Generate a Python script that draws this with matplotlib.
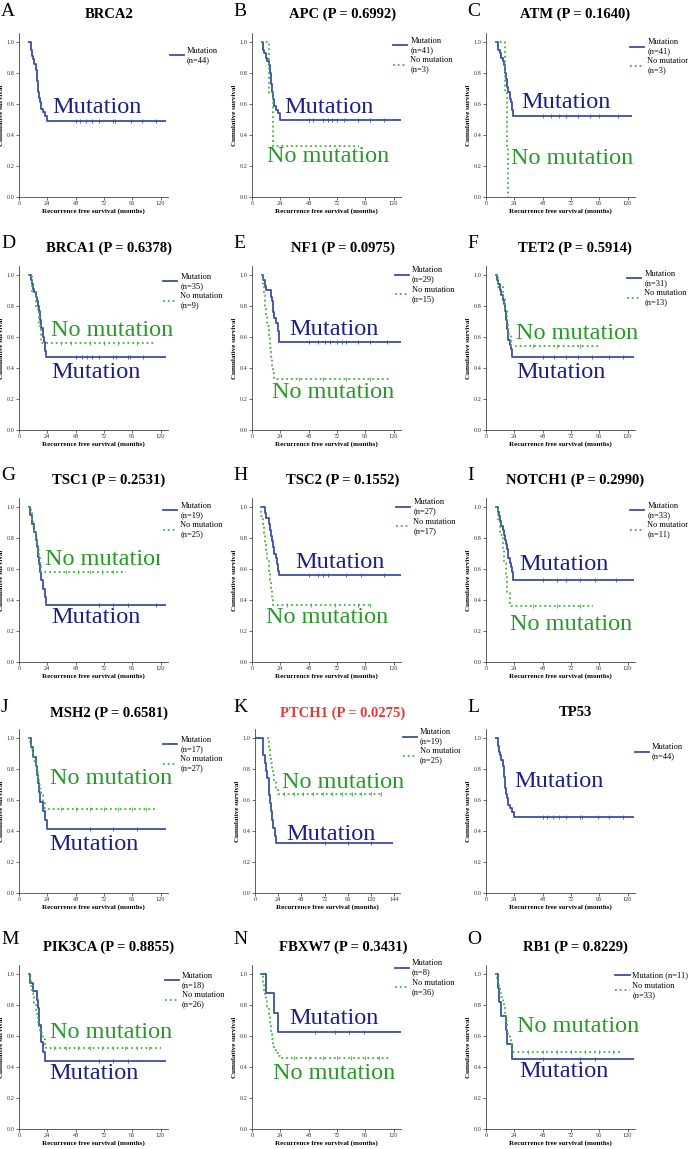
import matplotlib
matplotlib.use('Agg')
import matplotlib.pyplot as plt
from matplotlib.lines import Line2D
from matplotlib.transforms import Bbox, TransformedBbox

plt.rcParams['font.family'] = ['Liberation Serif', 'DejaVu Serif']

BLUE_LINE = '#3b4fa3'
BLUE_TEXT = '#1c1f8a'
GREEN_LINE = '#3fb43f'
GREEN_TEXT = '#279a27'

# ---- survival data (time in months, survival) ----
# A BRCA2
a_mut_t = [8, 10, 11, 12, 13, 14, 15, 16, 17, 18, 19, 20, 22, 24]
a_mut_s = [1.00, 0.95, 0.91, 0.89, 0.86, 0.82, 0.75, 0.68, 0.64, 0.61, 0.57, 0.55, 0.52, 0.49]
a_mut_c = [48, 52, 57, 62, 68, 80, 81, 95, 104, 116]
# B APC
b_mut_t = [8, 9, 10, 12, 13, 14, 15, 16, 17, 18, 19, 20, 22, 24]
b_mut_s = [1.00, 0.95, 0.93, 0.90, 0.88, 0.85, 0.80, 0.73, 0.68, 0.63, 0.59, 0.56, 0.54, 0.50]
b_mut_c = [48, 52, 60, 64, 68, 72, 78, 90, 100, 112]
b_no_t = [8, 14, 18]
b_no_s = [1.00, 0.67, 0.33]
# C ATM
c_mut_t = [8, 10, 12, 13, 14, 15, 16, 17, 18, 19, 20, 21, 22, 23]
c_mut_s = [1.00, 0.95, 0.93, 0.90, 0.88, 0.85, 0.80, 0.76, 0.71, 0.68, 0.63, 0.61, 0.56, 0.52]
c_mut_c = [48, 55, 62, 68, 78, 88, 96, 112]
c_no_t = [8, 16, 18, 19]
c_no_s = [1.00, 0.67, 0.33, 0.00]
# D BRCA1
d_mut_t = [8, 10, 11, 12, 13, 14, 15, 16, 17, 18, 19, 20, 21, 22, 23]
d_mut_s = [1.00, 0.97, 0.94, 0.91, 0.89, 0.86, 0.83, 0.80, 0.77, 0.71, 0.66, 0.60, 0.57, 0.51, 0.47]
d_mut_c = [48, 53, 58, 62, 68, 80, 82, 92, 94, 105]
d_no_t = [8, 11, 14, 17, 19]
d_no_s = [1.00, 0.89, 0.78, 0.67, 0.56]
d_no_c = [36, 44, 60, 72, 84, 100]
# E NF1
e_mut_t = [8, 9, 11, 12, 16, 17, 18, 19, 20, 22, 23]
e_mut_s = [1.00, 0.97, 0.93, 0.90, 0.86, 0.83, 0.76, 0.72, 0.69, 0.64, 0.57]
e_mut_c = [48, 56, 62, 66, 72, 76, 80, 90, 100, 114]
e_no_t = [8, 9, 10, 11, 12, 13, 14, 15, 16, 17, 18, 19]
e_no_s = [1.00, 0.93, 0.87, 0.80, 0.73, 0.67, 0.60, 0.53, 0.47, 0.40, 0.37, 0.33]
e_no_c = [40, 60, 80, 100]
# F TET2
f_mut_t = [8, 9, 10, 12, 13, 14, 15, 16, 17, 18, 19, 20, 21, 22]
f_mut_s = [1.00, 0.97, 0.94, 0.90, 0.87, 0.84, 0.81, 0.77, 0.71, 0.65, 0.58, 0.55, 0.52, 0.47]
f_mut_c = [48, 58, 68, 78, 90, 104, 116]
f_no_t = [8, 10, 14, 16, 18, 19, 21]
f_no_s = [1.00, 0.92, 0.85, 0.77, 0.69, 0.62, 0.54]
f_no_c = [40, 60, 80]
# G TSC1
g_mut_t = [8, 9, 11, 13, 14, 15, 16, 17, 18, 19, 20, 22, 23]
g_mut_s = [1.00, 0.95, 0.89, 0.84, 0.79, 0.74, 0.68, 0.63, 0.58, 0.53, 0.47, 0.42, 0.37]
g_mut_c = [68, 80, 92, 116]
g_no_t = [8, 10, 11, 12, 13, 14, 15, 16, 17, 18, 19]
g_no_s = [1.00, 0.96, 0.92, 0.88, 0.84, 0.80, 0.76, 0.72, 0.68, 0.62, 0.58]
g_no_c = [40, 50, 60, 70, 80]
# H TSC2
h_mut_t = [8, 11, 12, 14, 15, 16, 17, 18, 19, 20, 21, 22, 23]
h_mut_s = [1.00, 0.96, 0.93, 0.89, 0.85, 0.81, 0.78, 0.74, 0.70, 0.67, 0.63, 0.59, 0.56]
h_mut_c = [48, 56, 60, 64, 80, 92, 112]
h_no_t = [7, 8, 9, 10, 11, 12, 13, 14, 15, 16, 17, 18]
h_no_s = [1.00, 0.94, 0.88, 0.82, 0.76, 0.71, 0.65, 0.59, 0.53, 0.47, 0.41, 0.37]
h_no_c = [30, 50, 70, 90, 100]
# I NOTCH1
i_mut_t = [8, 10, 11, 12, 13, 14, 15, 16, 17, 18, 19, 20, 21, 22, 23]
i_mut_s = [1.00, 0.97, 0.94, 0.91, 0.88, 0.85, 0.82, 0.79, 0.76, 0.73, 0.67, 0.64, 0.61, 0.58, 0.53]
i_mut_c = [48, 60, 68, 80, 92, 110]
i_no_t = [8, 10, 12, 14, 15, 17, 18, 20]
i_no_s = [1.00, 0.91, 0.82, 0.73, 0.64, 0.55, 0.45, 0.36]
i_no_c = [40, 60, 80]
# J MSH2
j_mut_t = [8, 10, 12, 14, 15, 16, 17, 18, 20, 22, 24]
j_mut_s = [1.00, 0.94, 0.88, 0.82, 0.76, 0.71, 0.65, 0.59, 0.53, 0.47, 0.41]
j_mut_c = [60, 80, 100]
j_no_t = [8, 9, 10, 12, 13, 14, 15, 16, 17, 18, 19, 20, 22]
j_no_s = [1.00, 0.96, 0.93, 0.89, 0.85, 0.81, 0.78, 0.74, 0.70, 0.67, 0.63, 0.59, 0.54]
j_no_c = [36, 48, 60, 72, 84, 96, 108]
# K PTCH1
k_mut_t = [0, 8, 10, 11, 12, 14, 15, 16, 17, 18, 19, 21, 22]
k_mut_s = [1.00, 0.89, 0.84, 0.79, 0.74, 0.68, 0.63, 0.58, 0.53, 0.47, 0.42, 0.37, 0.32]
k_mut_c = [72, 96, 120]
k_no_t = [12, 14, 15, 16, 17, 18, 19, 20, 22, 24]
k_no_s = [1.00, 0.96, 0.92, 0.88, 0.84, 0.80, 0.76, 0.72, 0.68, 0.64]
k_no_c = [30, 40, 50, 60, 70, 80, 90, 100, 110, 120, 130]
# L TP53
l_mut_t = [8, 10, 11, 12, 13, 14, 15, 16, 17, 18, 19, 20, 22, 24]
l_mut_s = [1.00, 0.95, 0.91, 0.89, 0.86, 0.82, 0.75, 0.68, 0.64, 0.61, 0.57, 0.55, 0.52, 0.49]
l_mut_c = [48, 52, 57, 62, 68, 80, 81, 95, 104, 116]
# M PIK3CA
m_mut_t = [8, 9, 12, 15, 16, 17, 19, 20, 22]
m_mut_s = [1.00, 0.94, 0.89, 0.83, 0.78, 0.67, 0.56, 0.50, 0.44]
m_mut_c = [68, 80, 92]
m_no_t = [8, 9, 10, 11, 12, 13, 14, 15, 16, 17, 18, 20, 22, 23]
m_no_s = [1.00, 0.96, 0.92, 0.88, 0.85, 0.81, 0.77, 0.73, 0.69, 0.65, 0.62, 0.58, 0.54, 0.52]
m_no_c = [30, 40, 50, 60, 70, 80, 90, 100, 110]
# N FBXW7
n_mut_t = [7, 12, 19, 22]
n_mut_s = [1.00, 0.875, 0.75, 0.625]
n_mut_c = [53, 70, 82, 95]
n_no_t = [7, 9, 10, 11, 12, 13, 14, 15, 16, 17, 18, 19, 20, 22, 24]
n_no_s = [1.00, 0.94, 0.89, 0.86, 0.83, 0.78, 0.72, 0.67, 0.61, 0.58, 0.54, 0.51, 0.49, 0.47, 0.46]
n_no_c = [36, 48, 60, 72, 84, 96, 108]
# O RB1
o_mut_t = [8, 10, 11, 13, 17, 18, 22]
o_mut_s = [1.00, 0.91, 0.82, 0.73, 0.64, 0.55, 0.45]
o_mut_c = [48, 80, 92]
o_no_t = [8, 9, 10, 11, 12, 13, 14, 15, 16, 17, 18, 19, 20, 21, 22]
o_no_s = [1.00, 0.97, 0.94, 0.91, 0.88, 0.85, 0.82, 0.79, 0.73, 0.70, 0.64, 0.61, 0.58, 0.55, 0.50]
o_no_c = [36, 48, 60, 72, 84, 96, 108]

# panel: letter, title, curves, legend labels + place, big labels
panels = [
    dict(letter='A', title='BRCA2', mut=(a_mut_t, a_mut_s, a_mut_c, 125), no=None,
         leg=['Mutation\n(n=44)'], legpos=(1.015, 0.935), big=[('Mutation', 28, 0.58, 'm')]),
    dict(letter='B', title='APC (P = 0.6992)', mut=(b_mut_t, b_mut_s, b_mut_c, 126), no=(b_no_t, b_no_s, [], 91),
         leg=['Mutation\n(n=41)', 'No mutation\n(n=3)'], legpos=(0.95, 1.0),
         big=[('Mutation', 27, 0.58, 'm'), ('No mutation', 13, 0.26, 'n')]),
    dict(letter='C', title='ATM (P = 0.1640)', mut=(c_mut_t, c_mut_s, c_mut_c, 124), no=(c_no_t, c_no_s, [], 19),
         leg=['Mutation\n(n=41)', 'No mutation\n(n=3)'], legpos=(0.97, 0.99),
         big=[('Mutation', 30, 0.61, 'm'), ('No mutation', 21, 0.25, 'n')]),
    dict(letter='D', title='BRCA1 (P = 0.6378)', mut=(d_mut_t, d_mut_s, d_mut_c, 125), no=(d_no_t, d_no_s, d_no_c, 116),
         leg=['Mutation\n(n=35)', 'No mutation\n(n=9)'], legpos=(0.97, 0.98),
         big=[('No mutation', 27.5, 0.64, 'n'), ('Mutation', 27.5, 0.37, 'm')]),
    dict(letter='E', title='NF1 (P = 0.0975)', mut=(e_mut_t, e_mut_s, e_mut_c, 126), no=(e_no_t, e_no_s, e_no_c, 117),
         leg=['Mutation\n(n=29)', 'No mutation\n(n=15)'], legpos=(0.96, 1.02),
         big=[('Mutation', 32, 0.65, 'm'), ('No mutation', 17, 0.24, 'n')]),
    dict(letter='F', title='TET2 (P = 0.5914)', mut=(f_mut_t, f_mut_s, f_mut_c, 125), no=(f_no_t, f_no_s, f_no_c, 97),
         leg=['Mutation\n(n=31)', 'No mutation\n(n=13)'], legpos=(0.95, 1.0),
         big=[('No mutation', 25, 0.62, 'n'), ('Mutation', 26, 0.37, 'm')]),
    dict(letter='G', title='TSC1 (P = 0.2531)', mut=(g_mut_t, g_mut_s, g_mut_c, 125), no=(g_no_t, g_no_s, g_no_c, 91),
         leg=['Mutation\n(n=19)', 'No mutation\n(n=25)'], legpos=(0.97, 1.0),
         big=[('No mutation', 22, 0.66, 'n'), ('Mutation', 27.5, 0.29, 'm')], bigclip=160),
    dict(letter='H', title='TSC2 (P = 0.1552)', mut=(h_mut_t, h_mut_s, h_mut_c, 126), no=(h_no_t, h_no_s, h_no_c, 102),
         leg=['Mutation\n(n=27)', 'No mutation\n(n=17)'], legpos=(0.97, 1.02),
         big=[('Mutation', 37, 0.64, 'm'), ('No mutation', 12, 0.29, 'n')]),
    dict(letter='I', title='NOTCH1 (P = 0.2990)', mut=(i_mut_t, i_mut_s, i_mut_c, 125), no=(i_no_t, i_no_s, i_no_c, 91),
         leg=['Mutation\n(n=33)', 'No mutation\n(n=11)'], legpos=(0.97, 1.0),
         big=[('Mutation', 28, 0.63, 'm'), ('No mutation', 20, 0.24, 'n')]),
    dict(letter='J', title='MSH2 (P = 0.6581)', mut=(j_mut_t, j_mut_s, j_mut_c, 125), no=(j_no_t, j_no_s, j_no_c, 118),
         leg=['Mutation\n(n=17)', 'No mutation\n(n=27)'], legpos=(0.97, 0.98),
         big=[('No mutation', 26, 0.74, 'n'), ('Mutation', 26, 0.31, 'm')]),
    dict(letter='K', title='PTCH1 (P = 0.0275)', mut=(k_mut_t, k_mut_s, k_mut_c, 143), no=(k_no_t, k_no_s, k_no_c, 133),
         leg=['Mutation\n(n=19)', 'No mutation\n(n=25)'], legpos=(1.02, 1.03), legclip=460,
         big=[('No mutation', 28, 0.71, 'n'), ('Mutation', 32, 0.38, 'm')]),
    dict(letter='L', title='TP53', mut=(l_mut_t, l_mut_s, l_mut_c, 125), no=None,
         leg=['Mutation\n(n=44)'], legpos=(1.0, 0.93), big=[('Mutation', 24, 0.72, 'm')]),
    dict(letter='M', title='PIK3CA (P = 0.8855)', mut=(m_mut_t, m_mut_s, m_mut_c, 125), no=(m_no_t, m_no_s, m_no_c, 120),
         leg=['Mutation\n(n=18)', 'No mutation\n(n=26)'], legpos=(0.98, 0.98),
         big=[('No mutation', 26, 0.62, 'n'), ('Mutation', 26, 0.36, 'm')]),
    dict(letter='N', title='FBXW7 (P = 0.3431)', mut=(n_mut_t, n_mut_s, n_mut_c, 126), no=(n_no_t, n_no_s, n_no_c, 118),
         leg=['Mutation\n(n=8)', 'No mutation\n(n=36)'], legpos=(0.96, 1.06),
         big=[('Mutation', 32, 0.71, 'm'), ('No mutation', 18, 0.36, 'n')]),
    dict(letter='O', title='RB1 (P = 0.8229)', mut=(o_mut_t, o_mut_s, o_mut_c, 125), no=(o_no_t, o_no_s, o_no_c, 115),
         leg=['Mutation (n=11)', 'No mutation\n(n=33)'], legpos=(0.87, 0.98),
         big=[('No mutation', 26, 0.66, 'n'), ('Mutation', 28.5, 0.37, 'm')]),
]

W, H = 688, 1149
col_x0 = [19, 252, 486]          # pixel x of month 0
row_y0 = [197, 430, 662, 893, 1129]  # pixel y of survival 0.0
title_cx = [109, 343, 575]
title_cy = [14, 248, 480, 713, 947]
letter_x = [1, 233, 467]
letter_cy = [12, 243, 475, 707, 939]
py_unit = 155
ytop = 1.06

fig = plt.figure(figsize=(W / 100, H / 100), dpi=100)


def clip_right(artist, xpx):
    # clip an artist at a pixel column of the figure
    box = TransformedBbox(Bbox([[0, 0], [xpx / W, 1]]), fig.transFigure)
    artist.set_clip_box(box)
    artist.set_clip_on(True)


def draw_curve(ax, curve, color, ls):
    t, s, cens, end = curve
    xs = list(t) + [end]
    ys = list(s) + [s[-1]]
    ax.plot(xs, ys, drawstyle='steps-post', color=color, lw=1.3, ls=ls, solid_capstyle='butt')
    if cens:
        ax.plot(cens, [s[-1]] * len(cens), ls='none', marker='|', ms=2.5, mew=0.6, color=color)


for k, p in enumerate(panels):
    row, col = divmod(k, 3)
    if p['letter'] == 'K':
        xmax, pxm, xticks = 150, 0.966, [0, 24, 48, 72, 96, 120, 144]
        x0 = 255
    else:
        xmax, pxm, xticks = 126, 1.18, [0, 24, 48, 72, 96, 120]
        x0 = col_x0[col]
    y0 = row_y0[row]
    wpx = xmax * pxm
    hpx = ytop * py_unit
    ax = fig.add_axes([x0 / W, 1 - y0 / H, wpx / W, hpx / H])
    ax.set_xlim(0, xmax)
    ax.set_ylim(0, ytop)
    for sp in ['top', 'right']:
        ax.spines[sp].set_visible(False)
    for sp in ['left', 'bottom']:
        ax.spines[sp].set_linewidth(0.6)
        ax.spines[sp].set_color('#444444')
    ax.set_xticks(xticks)
    ax.set_yticks([0.0, 0.2, 0.4, 0.6, 0.8, 1.0])
    ax.set_yticklabels(['0.0', '0.2', '0.4', '0.6', '0.8', '1.0'])
    ax.tick_params(labelsize=4.5, length=2, width=0.5, pad=1, colors='#333333')
    ax.set_ylabel('Cumulative survival', fontsize=5, fontweight='bold', labelpad=2)
    ax.set_xlabel('Recurrence free survival (months)', fontsize=5, fontweight='bold', labelpad=1.5)

    handles = []
    draw_curve(ax, p['mut'], BLUE_LINE, '-')
    handles.append(Line2D([], [], color=BLUE_LINE, lw=1.3))
    if p['no'] is not None:
        draw_curve(ax, p['no'], GREEN_LINE, ':')
        handles.append(Line2D([], [], color=GREEN_LINE, lw=1.3, ls=':'))

    for txt, bx, by, kind in p['big']:
        t = ax.text(bx, by, txt, fontsize=17.5, color=BLUE_TEXT if kind == 'm' else GREEN_TEXT,
                    ha='left', va='center', clip_on=False)
        if 'bigclip' in p:
            clip_right(t, p['bigclip'])

    lx, ly = p['legpos']
    leg = ax.legend(handles, p['leg'], loc='upper left', bbox_to_anchor=(lx, (ly + 0.035) / ytop),
                    frameon=False, fontsize=6, handlelength=1.7, handletextpad=0.35, labelspacing=0.25,
                    borderaxespad=0, borderpad=0)
    if 'legclip' in p:
        for lt in leg.get_texts():
            clip_right(lt, p['legclip'])

    fig.text(title_cx[col] / W, 1 - title_cy[row] / H, p['title'], fontsize=10.5, fontweight='bold',
             ha='center', va='center', color='#e03a3a' if p['letter'] == 'K' else 'black')
    fig.text(letter_x[col] / W, 1 - letter_cy[row] / H, p['letter'], fontsize=14,
             ha='left', va='center')

fig.savefig('out.png', dpi=100)
